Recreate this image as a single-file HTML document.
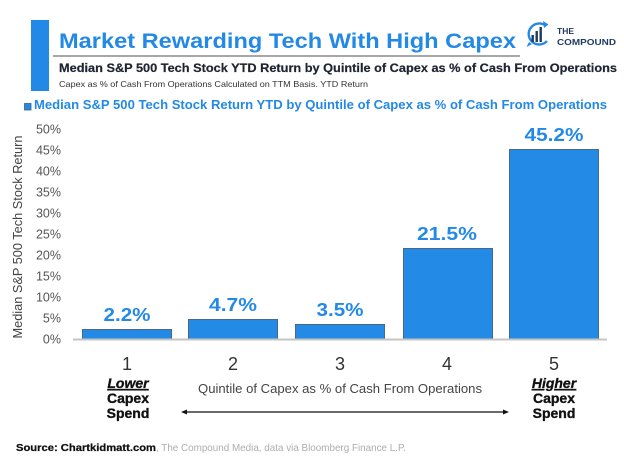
<!DOCTYPE html>
<html>
<head>
<meta charset="utf-8">
<style>
  html,body{margin:0;padding:0;background:#fff;}
  svg{display:block;}
  text{font-family:"Liberation Sans",sans-serif;}
</style>
</head>
<body>
<svg width="624" height="463" viewBox="0 0 624 463" xmlns="http://www.w3.org/2000/svg">
  <rect x="0" y="0" width="624" height="463" fill="#ffffff"/>

  <!-- Header accent bar -->
  <rect x="31" y="20" width="18" height="71" fill="#2389e6"/>

  <!-- Title -->
  <text x="59" y="48" font-size="21" font-weight="bold" fill="#2389e6" textLength="457" lengthAdjust="spacingAndGlyphs">Market Rewarding Tech With High Capex</text>
  <line x1="53" y1="56" x2="520" y2="56" stroke="#8a8a8a" stroke-width="1.5"/>

  <!-- Subtitle -->
  <text x="59" y="72" font-size="11.5" font-weight="bold" fill="#1e2430" stroke="#1e2430" stroke-width="0.2" textLength="558" lengthAdjust="spacingAndGlyphs">Median S&amp;P 500 Tech Stock YTD Return by Quintile of Capex as % of Cash From Operations</text>
  <text x="59" y="87" font-size="8.5" fill="#333" textLength="309" lengthAdjust="spacingAndGlyphs">Capex as % of Cash From Operations Calculated on TTM Basis. YTD Return</text>

  <!-- Logo -->
  <g>
    <path d="M 546 26 A 10.5 10.5 0 1 0 547 41" fill="none" stroke="#2389e6" stroke-width="2.4"/>
    <path d="M 529 42 L 526.5 47 L 532 44 Z" fill="#2389e6"/>
    <path d="M 543 21 L 548.5 24.5 L 544 28 Z" fill="#2389e6"/>
    <rect x="531.5" y="35" width="2.4" height="7" fill="#1f3a5f"/>
    <rect x="535.5" y="31" width="2.4" height="11" fill="#1f3a5f"/>
    <rect x="539.5" y="27" width="2.4" height="15" fill="#1f3a5f"/>
    <text x="557" y="34" font-size="8.5" font-weight="bold" fill="#1f3a5f">THE</text>
    <text x="557" y="45" font-size="8.5" font-weight="bold" fill="#1f3a5f" textLength="59" lengthAdjust="spacingAndGlyphs">COMPOUND</text>
  </g>

  <!-- Legend -->
  <rect x="24.5" y="103.5" width="6.5" height="6.5" fill="#2389e6" stroke="#3d5f86" stroke-width="0.8"/>
  <text x="34" y="109" font-size="12.5" font-weight="bold" fill="#2389e6" textLength="573" lengthAdjust="spacingAndGlyphs">Median S&amp;P 500 Tech Stock Return YTD by Quintile of Capex as % of Cash From Operations</text>

  <!-- Y axis title -->
  <text transform="translate(22,237) rotate(-90)" text-anchor="middle" font-size="12.5" fill="#444" textLength="203" lengthAdjust="spacingAndGlyphs">Median S&amp;P 500 Tech Stock Return</text>

  <!-- Y ticks -->
  <g font-size="12.5" fill="#555" text-anchor="end">
    <text x="61" y="343.5">0%</text>
    <text x="61" y="322.5">5%</text>
    <text x="61" y="301.5">10%</text>
    <text x="61" y="280.5">15%</text>
    <text x="61" y="259.5">20%</text>
    <text x="61" y="238.5">25%</text>
    <text x="61" y="217.5">30%</text>
    <text x="61" y="196.5">35%</text>
    <text x="61" y="175.5">40%</text>
    <text x="61" y="154.5">45%</text>
    <text x="61" y="133.5">50%</text>
  </g>

  <!-- Bars -->
  <g fill="#238be6" stroke="#4a6688" stroke-width="1">
    <rect x="82.5" y="329.5" width="89" height="9.5"/>
    <rect x="188.5" y="319.5" width="89" height="19.5"/>
    <rect x="295.5" y="324.5" width="89" height="14.5"/>
    <rect x="403.5" y="248.5" width="89" height="90.5"/>
    <rect x="509.5" y="149.5" width="89" height="189.5"/>
  </g>

  <!-- Axis line -->
  <line x1="73" y1="339.5" x2="607" y2="339.5" stroke="#c4c4c4" stroke-width="2"/>

  <!-- Value labels -->
  <g font-size="18" font-weight="bold" fill="#2389e6" text-anchor="middle">
    <text x="127" y="321" textLength="47" lengthAdjust="spacingAndGlyphs">2.2%</text>
    <text x="233" y="311" textLength="48" lengthAdjust="spacingAndGlyphs">4.7%</text>
    <text x="340" y="316" textLength="47" lengthAdjust="spacingAndGlyphs">3.5%</text>
    <text x="447" y="240" textLength="60" lengthAdjust="spacingAndGlyphs">21.5%</text>
    <text x="554" y="141" textLength="59" lengthAdjust="spacingAndGlyphs">45.2%</text>
  </g>

  <!-- X tick labels -->
  <g font-size="18" fill="#333" text-anchor="middle">
    <text x="127" y="370">1</text>
    <text x="233" y="370">2</text>
    <text x="340" y="370">3</text>
    <text x="447" y="370">4</text>
    <text x="554" y="370">5</text>
  </g>

  <!-- X axis title -->
  <text x="340" y="393" font-size="13" fill="#444" text-anchor="middle" textLength="284" lengthAdjust="spacingAndGlyphs">Quintile of Capex as % of Cash From Operations</text>

  <!-- Lower / Higher labels -->
  <g font-size="14" font-weight="bold" fill="#111" stroke="#111" stroke-width="0.35" text-anchor="middle">
    <text x="128" y="388" font-style="italic" text-decoration="underline">Lower</text>
    <text x="128" y="403">Capex</text>
    <text x="128" y="418">Spend</text>
    <text x="554" y="388" font-style="italic" text-decoration="underline">Higher</text>
    <text x="554" y="403">Capex</text>
    <text x="554" y="418">Spend</text>
  </g>

  <!-- Double arrow -->
  <line x1="184" y1="412" x2="506" y2="412" stroke="#111" stroke-width="1.2"/>
  <path d="M 181 412 L 187 409.5 L 187 414.5 Z" fill="#111"/>
  <path d="M 509 412 L 503 409.5 L 503 414.5 Z" fill="#111"/>

  <!-- Source -->
  <text x="16" y="451" font-size="10.5" font-weight="bold" fill="#111" stroke="#111" stroke-width="0.25" textLength="140" lengthAdjust="spacingAndGlyphs">Source: Chartkidmatt.com</text>
  <text x="156" y="451" font-size="10.5" fill="#adadad" textLength="250" lengthAdjust="spacingAndGlyphs">, The Compound Media, data via Bloomberg Finance L.P.</text>
</svg>
</body>
</html>
